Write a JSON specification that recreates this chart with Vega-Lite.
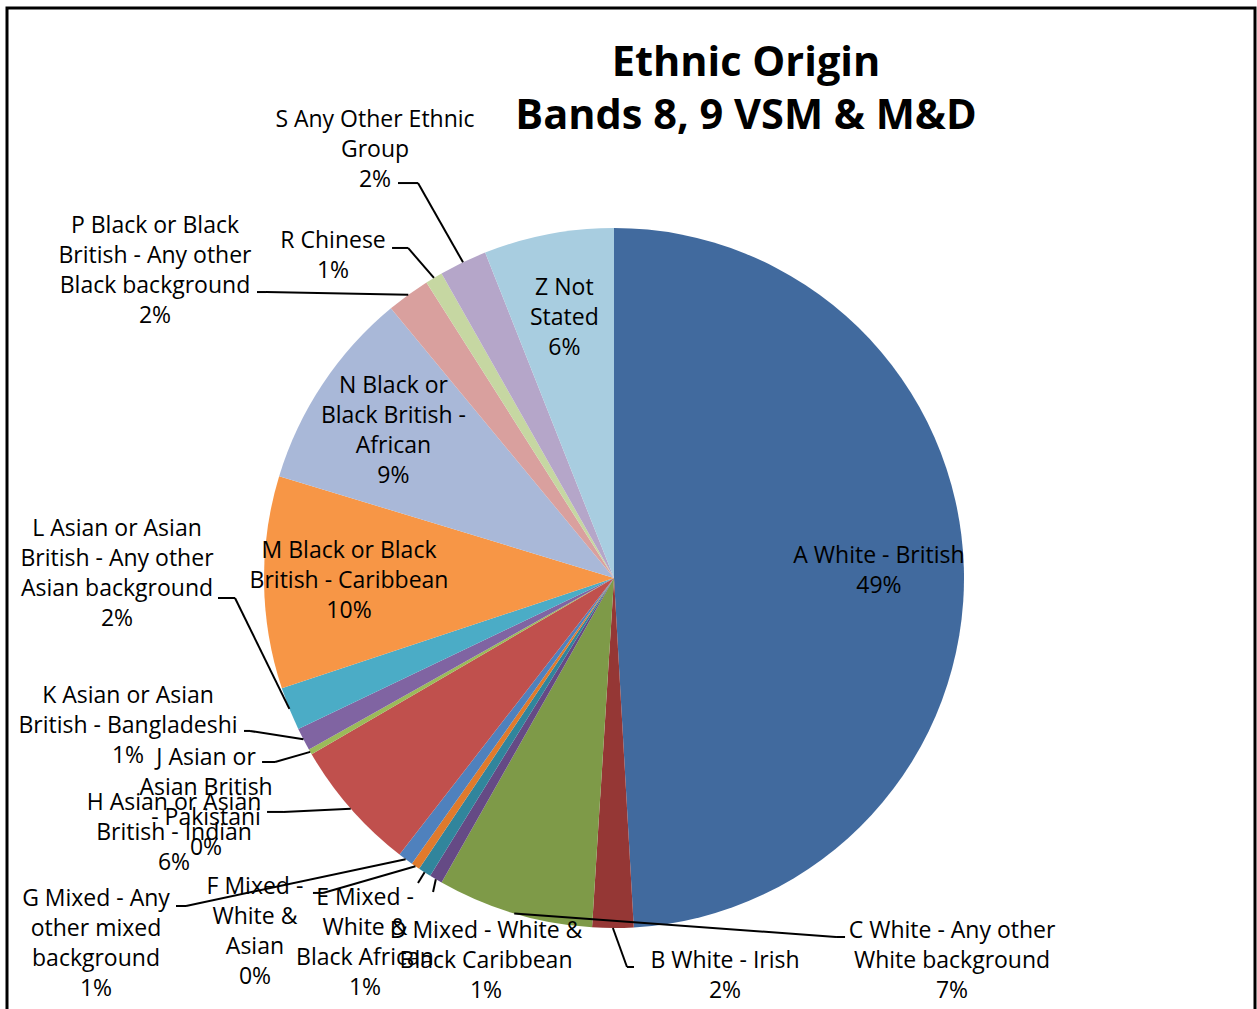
{
  "$schema": "https://vega.github.io/schema/vega-lite/v6.json",
  "width": 1248,
  "height": 1010,
  "autosize": "none",
  "padding": {"left": 7, "top": 8, "right": 2, "bottom": -9},
  "background": "white",
  "config": {
    "view": {"stroke": "black", "strokeWidth": 3},
    "font": "Open Sans"
  },
  "title": {
    "text": ["Ethnic Origin", "Bands 8, 9 VSM & M&D"],
    "font": "Open Sans",
    "fontSize": 41.5,
    "fontWeight": "bold",
    "color": "black",
    "anchor": "middle",
    "frame": "group",
    "baseline": "top",
    "offset": 0,
    "lineHeight": 53,
    "dx": 115,
    "dy": 129
  },
  "data": {
    "values": [
      {"category": "A White - British", "value": 49.1},
      {"category": "B White - Irish", "value": 1.9},
      {"category": "C White - Any other\nWhite background", "value": 7.2},
      {"category": "D Mixed - White &\nBlack Caribbean", "value": 0.6},
      {"category": "E Mixed -\nWhite &\nBlack African", "value": 0.6},
      {"category": "F Mixed -\nWhite &\nAsian", "value": 0.4},
      {"category": "G Mixed - Any\nother mixed\nbackground", "value": 0.7},
      {"category": "H Asian or Asian\nBritish - Indian", "value": 6.1},
      {"category": "J Asian or\nAsian British\n- Pakistani", "value": 0.25},
      {"category": "K Asian or Asian\nBritish - Bangladeshi", "value": 1.05},
      {"category": "L Asian or Asian\nBritish - Any other\nAsian background", "value": 2.0},
      {"category": "M Black or Black\nBritish - Caribbean", "value": 9.8},
      {"category": "N Black or\nBlack British -\nAfrican", "value": 9.3},
      {"category": "P Black or Black\nBritish - Any other\nBlack background", "value": 2.0},
      {"category": "R Chinese", "value": 0.8},
      {"category": "S Any Other Ethnic\nGroup", "value": 2.2},
      {"category": "Z Not\nStated", "value": 6.0}
    ]
  },
  "transform": [
    {"calculate": "substring(datum.category, 0, 1)", "as": "code"},
    {"joinaggregate": [{"op": "sum", "field": "value", "as": "total"}]},
    {"window": [{"op": "sum", "field": "value", "as": "cum"}], "sort": [{"field": "code", "order": "ascending"}], "frame": [null, 0]},
    {"calculate": "2 * PI * (datum.cum - datum.value / 2) / datum.total", "as": "ang"},
    {"calculate": "350 * sin(datum.ang)", "as": "ex"},
    {"calculate": "-350 * cos(datum.ang)", "as": "ey"},
    {"calculate": "datum.category + '\\n' + format(datum.value, '.0f') + '%'", "as": "label"},
    {"calculate": "length(split(datum.label, '\\n'))", "as": "lines"},
    {"calculate": "indexof(['A','M','N','Z'], datum.code) >= 0", "as": "inside"}
  ],
  "layer": [
    {
      "mark": {"type": "arc", "outerRadius": 350},
      "encoding": {
        "x": {"datum": 0, "type": "quantitative", "scale": {"domain": [-607, 641], "nice": false, "zero": false}, "axis": null},
        "y": {"datum": 0, "type": "quantitative", "scale": {"domain": [-570, 440], "reverse": true, "nice": false, "zero": false}, "axis": null},
        "theta": {"field": "value", "type": "quantitative", "stack": true},
        "order": {"field": "code", "sort": "ascending"},
        "color": {
          "field": "code",
          "type": "nominal",
          "scale": {
            "domain": ["A", "B", "C", "D", "E", "F", "G", "H", "J", "K", "L", "M", "N", "P", "R", "S", "Z"],
            "range": ["#416A9E", "#953735", "#7E9A48", "#654A85", "#31859C", "#E07A2C", "#4F81BD", "#C0504D", "#9BBB59", "#8064A2", "#4BACC6", "#F79646", "#A9B8D8", "#D9A09E", "#C6D7A2", "#B5A6C9", "#A8CDE0"]
          },
          "legend": null
        }
      }
    },
    {
      "transform": [
        {"filter": "datum.inside"},
        {"calculate": "265 * sin(datum.ang)", "as": "lx"},
        {"calculate": "-265 * cos(datum.ang) - (datum.lines - 1) * 15", "as": "ly"}
      ],
      "mark": {"type": "text", "align": "center", "baseline": "middle", "lineBreak": "\n", "lineHeight": 30, "fontSize": 23, "font": "Open Sans", "fill": "black"},
      "encoding": {
        "x": {"field": "lx", "type": "quantitative", "scale": {"domain": [-607, 641], "nice": false, "zero": false}, "axis": null},
        "y": {"field": "ly", "type": "quantitative", "scale": {"domain": [-570, 440], "reverse": true, "nice": false, "zero": false}, "axis": null},
        "text": {"field": "label"}
      }
    },
    {
      "transform": [
        {"filter": "!datum.inside"},
        {"calculate": "{'B':[14.1,39,21.1,39,112.1,48],'C':[321.8,23.5,330.8,23.5,437.8,47.5],'D':[-2.8,12.8,-2.8,12.8,50.2,81.8],'E':[-6.6,10.6,-6.6,10.6,-59.6,70.6],'F':[-92.5,26.7,-102.5,26.7,-160.5,66.2],'G':[-219.6,46.8,-229.6,46.8,-309.6,84.8],'H':[-67.7,3.3,-83.7,3.3,-176.7,24.8],'J':[-35.2,10.1,-48.2,10.1,-104.2,51.1],'K':[-53.4,-8.4,-59.4,-8.4,-175.4,-13.4],'L':[-54.4,-110.9,-71.4,-110.9,-172.4,-134.4],'P':[-142.3,-2.8,-151.3,-2.8,-253.3,-24.3],'R':[-25.9,-29.9,-41.9,-29.9,-100.9,-21.4],'S':[-45,-79.2,-65,-79.2,-88,-112.7]}[datum.code]", "as": "lay"},
        {"calculate": "datum.ex + datum.lay[0]", "as": "e1x"},
        {"calculate": "datum.ey + datum.lay[1]", "as": "e1y"},
        {"calculate": "datum.ex + datum.lay[2]", "as": "e2x"},
        {"calculate": "datum.ey + datum.lay[3]", "as": "e2y"},
        {"calculate": "datum.ex + datum.lay[4]", "as": "lx"},
        {"calculate": "datum.ey + datum.lay[5] - (datum.lines - 1) * 15", "as": "ly"}
      ],
      "layer": [
        {
          "mark": {"type": "rule", "color": "black", "strokeWidth": 2},
          "encoding": {
            "x": {"field": "ex", "type": "quantitative", "scale": {"domain": [-607, 641], "nice": false, "zero": false}, "axis": null},
            "y": {"field": "ey", "type": "quantitative", "scale": {"domain": [-570, 440], "reverse": true, "nice": false, "zero": false}, "axis": null},
            "x2": {"field": "e1x"},
            "y2": {"field": "e1y"}
          }
        },
        {
          "mark": {"type": "rule", "color": "black", "strokeWidth": 2},
          "encoding": {
            "x": {"field": "e1x", "type": "quantitative", "scale": {"domain": [-607, 641], "nice": false, "zero": false}, "axis": null},
            "y": {"field": "e1y", "type": "quantitative", "scale": {"domain": [-570, 440], "reverse": true, "nice": false, "zero": false}, "axis": null},
            "x2": {"field": "e2x"},
            "y2": {"field": "e2y"}
          }
        },
        {
          "mark": {"type": "text", "align": "center", "baseline": "middle", "lineBreak": "\n", "lineHeight": 30, "fontSize": 23, "font": "Open Sans", "fill": "black"},
          "encoding": {
            "x": {"field": "lx", "type": "quantitative", "scale": {"domain": [-607, 641], "nice": false, "zero": false}, "axis": null},
            "y": {"field": "ly", "type": "quantitative", "scale": {"domain": [-570, 440], "reverse": true, "nice": false, "zero": false}, "axis": null},
            "text": {"field": "label"}
          }
        }
      ]
    }
  ]
}
